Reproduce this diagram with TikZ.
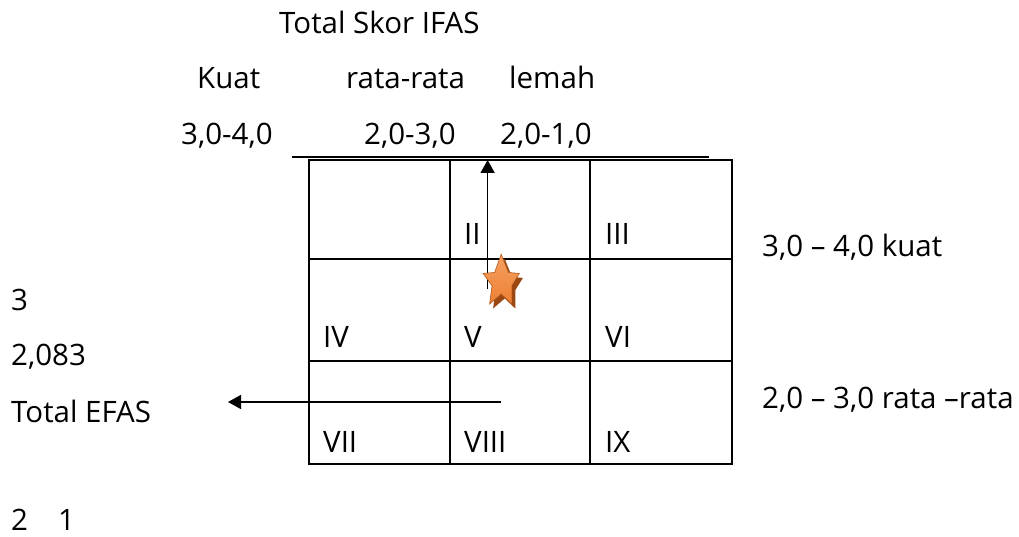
\documentclass[tikz,border=0pt]{standalone}
\usepackage{fontspec}
\setmainfont{Open Sans}
\usetikzlibrary{arrows.meta}
\definecolor{starfill}{HTML}{EE7F35}
\definecolor{starlight}{HTML}{F4A060}
\definecolor{starshade}{HTML}{9A4712}
\begin{document}
\begin{tikzpicture}[x=1pt,y=-1pt,
  lbl/.style={anchor=base west,inner sep=0pt,font=\fontsize{29.5}{34}\selectfont},
  gridline/.style={line width=2pt},
  arr/.style={line width=1.6pt,-{Triangle[length=13pt,width=14pt]}}]
\useasboundingbox[fill=white] (0,0) rectangle (1019,537);
% texts
\node[lbl] (title) at (279,34) {Total Skor IFAS};
\node[lbl] (kuat) at (197,89) {Kuat};
\node[lbl] (rata) at (346,89) {rata-rata};
\node[lbl] (lemah) at (509,89) {lemah};
\node[lbl] (r1) at (181,145) {3,0-4,0};
\node[lbl] (r2) at (364,145) {2,0-3,0};
\node[lbl] (r3) at (500,145) {2,0-1,0};
\node[lbl] (e3) at (11,310) {3};
\node[lbl] (e2) at (11,365) {2,083};
\node[lbl] (efas) at (11,422) {Total EFAS};
\node[lbl] (e21) at (11,530) {2\hspace{30pt}1};
\node[lbl] (rk) at (762,256) {3,0 – 4,0 kuat};
\node[lbl] (rr) at (762,408) {2,0 – 3,0 rata –rata};
% grid
\draw[gridline] (291.6,156.6) -- (709,156.6);
\draw[gridline] (309,160) rectangle (732,464);
\draw[gridline] (450,160) -- (450,464);
\draw[gridline] (590,160) -- (590,464);
\draw[gridline] (309,259) -- (732,259);
\draw[gridline] (309,361) -- (732,361);
% numerals
\node[lbl] (n2) at (464,244) {II};
\node[lbl] (n3) at (605,244) {III};
\node[lbl] (n4) at (323,347) {IV};
\node[lbl] (n5) at (464,347) {V};
\node[lbl] (n6) at (605,347) {VI};
\node[lbl] (n7) at (323,452) {VII};
\node[lbl] (n8) at (464,452) {VIII};
\node[lbl] (n9) at (605,452) {IX};
% arrows
\coordinate (upS) at (487.6,289);
\coordinate (upE) at (487.6,160);
\coordinate (lfS) at (501,402);
\coordinate (lfE) at (228,402);
\draw[arr] (upS) -- (upE);
\draw[arr] (lfS) -- (lfE);
% star
\def\starpath{(501.2,254.2) -- (508.5,272.5) -- (519.4,273.4) -- (511.8,285.7) -- (511.8,304) -- (501.2,294) -- (489.6,304) -- (492,285.7) -- (483,273.4) -- (494.6,272.5) -- cycle}
\fill[starshade,shift={(3.5,4.5)}] \starpath;
\shade[top color=starlight,bottom color=starfill,draw=starshade!70!starfill,line width=0.6pt] \starpath;
\end{tikzpicture}
\end{document}
